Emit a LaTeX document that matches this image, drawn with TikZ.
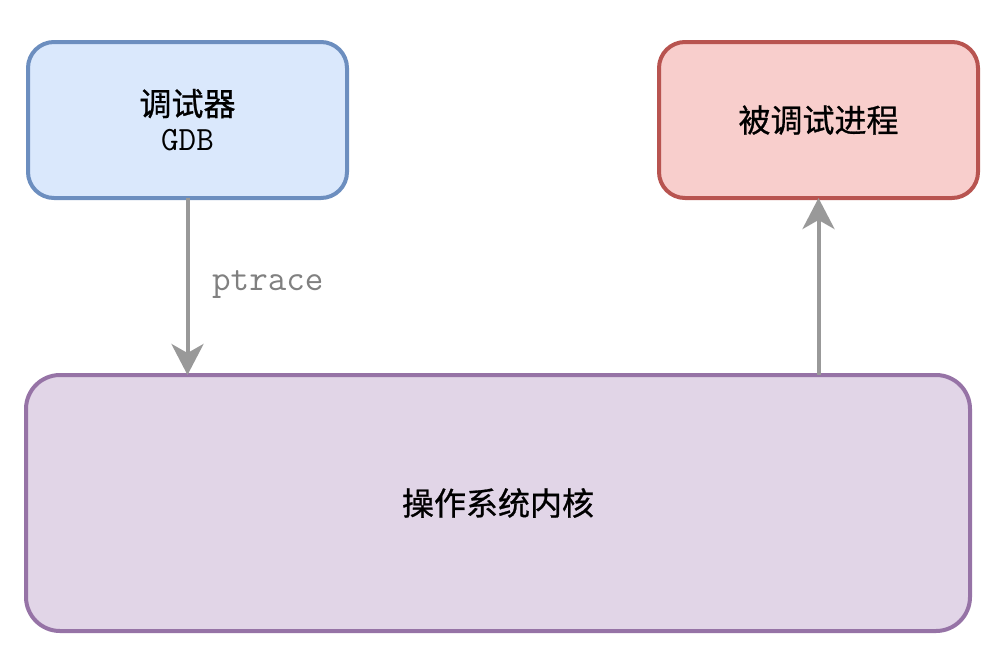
\documentclass[tikz,border=0pt]{standalone}
\usepackage{fontspec}
\newfontfamily\cjk[FakeBold=0.8]{Noto Sans CJK SC}
\usetikzlibrary{arrows.meta}
\definecolor{bluefill}{HTML}{DAE8FC}
\definecolor{bluedraw}{HTML}{6C8EBF}
\definecolor{redfill}{HTML}{F8CECC}
\definecolor{reddraw}{HTML}{B85450}
\definecolor{purplefill}{HTML}{E1D5E7}
\definecolor{purpledraw}{HTML}{9673A6}
\definecolor{arrowgray}{HTML}{999999}
\definecolor{labelgray}{HTML}{808080}
\tikzset{
  boxbase/.style={draw, line width=4pt, rounded corners=26pt, inner sep=0pt, outer sep=0pt, align=center,
    font=\fontsize{32}{38}\selectfont},
  dbgbox/.style={boxbase, fill=bluefill, draw=bluedraw, minimum width=319pt, minimum height=156pt},
  procbox/.style={boxbase, fill=redfill, draw=reddraw, minimum width=319pt, minimum height=156pt},
  kernbox/.style={boxbase, fill=purplefill, draw=purpledraw, rounded corners=34pt, minimum width=944pt, minimum height=256pt},
  conn/.style={draw=arrowgray, line width=4pt, -{Stealth[length=31pt,width=32pt,inset=9pt]}},
  lbl/.style={font=\fontsize{36}{40}\selectfont\ttfamily, text=labelgray, inner sep=0pt}
}
\begin{document}
\begin{tikzpicture}[x=1pt,y=-1pt]
\useasboundingbox (0,0) rectangle (1000,662);
\node[dbgbox] (dbg) at (187.5,120) {{\cjk 调试器}\\[-3pt]{\ttfamily\fontsize{34}{36}\selectfont GDB}};
\node[procbox] (proc) at (818.5,120) {\cjk 被调试进程};
\node[kernbox] (kern) at (498,503) {\cjk 操作系统内核};
\draw[conn] (dbg.south) -- (dbg.south |- kern.north);
\draw[conn] (proc.south |- kern.north) -- (proc.south);
\node[lbl, anchor=west] (pt) at (212,285) {ptrace};
\end{tikzpicture}
\end{document}
